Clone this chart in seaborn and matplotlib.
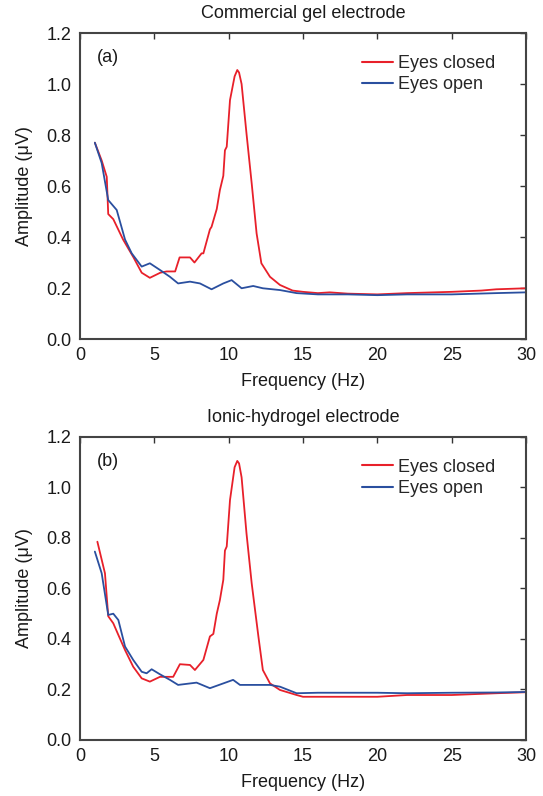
import numpy as np
import pandas as pd
import matplotlib
matplotlib.use("Agg")
import matplotlib.pyplot as plt
import seaborn as sns

# Panel (a): Commercial gel electrode
a_closed_f = [1.0, 1.46, 1.8, 1.9, 2.24, 2.9, 3.6, 4.15, 4.7, 5.4, 5.83, 6.4, 6.7, 7.4, 7.7,
              8.18, 8.3, 8.74, 8.85, 9.2, 9.41, 9.64, 9.75, 9.87, 10.09, 10.4, 10.58, 10.7, 10.87,
              11.2, 11.55, 11.88, 12.2, 12.78, 13.45, 14.3, 15.0, 16.0, 16.8, 18.0, 20.0, 22.0,
              25.0, 27.0, 28.0, 30.0]
a_closed_v = [0.77, 0.70, 0.636, 0.49, 0.47, 0.39, 0.32, 0.26, 0.24, 0.26, 0.265, 0.265, 0.32,
              0.32, 0.30, 0.336, 0.336, 0.43, 0.44, 0.51, 0.584, 0.64, 0.74, 0.754, 0.937, 1.03,
              1.055, 1.045, 1.0, 0.806, 0.61, 0.414, 0.297, 0.244, 0.212, 0.19, 0.185, 0.18,
              0.183, 0.178, 0.175, 0.18, 0.185, 0.19, 0.195, 0.199]
a_open_f = [1.0, 1.46, 1.9, 2.47, 3.03, 3.48, 4.15, 4.7, 5.4, 6.05, 6.6, 7.4, 8.07, 8.85, 9.64,
            10.2, 10.87, 11.65, 12.3, 13.45, 14.57, 16.0, 18.0, 20.0, 22.0, 25.0, 28.0, 30.0]
a_open_v = [0.77, 0.69, 0.545, 0.506, 0.39, 0.336, 0.284, 0.297, 0.27, 0.244, 0.218, 0.225,
            0.218, 0.195, 0.218, 0.231, 0.199, 0.208, 0.199, 0.192, 0.18, 0.175, 0.175, 0.172,
            0.175, 0.175, 0.18, 0.183]

# Panel (b): Ionic-hydrogel electrode
b_closed_f = [1.17, 1.68, 1.9, 2.24, 2.58, 3.03, 3.58, 4.15, 4.7, 5.38, 6.27, 6.72, 7.4, 7.73,
              8.3, 8.74, 8.97, 9.2, 9.41, 9.64, 9.75, 9.87, 10.09, 10.4, 10.58, 10.7, 10.87, 11.2,
              11.55, 12.0, 12.3, 12.78, 13.45, 14.57, 15.0, 17.0, 20.0, 22.0, 25.0, 28.0, 30.0]
b_closed_v = [0.785, 0.66, 0.49, 0.462, 0.416, 0.356, 0.29, 0.244, 0.231, 0.25, 0.25, 0.30,
              0.297, 0.277, 0.317, 0.41, 0.42, 0.50, 0.554, 0.634, 0.75, 0.766, 0.95, 1.08, 1.105,
              1.095, 1.04, 0.818, 0.62, 0.41, 0.277, 0.224, 0.198, 0.178, 0.171, 0.171, 0.171,
              0.178, 0.178, 0.185, 0.189]
b_open_f = [1.0, 1.46, 1.9, 2.24, 2.58, 3.03, 3.58, 4.15, 4.48, 4.82, 5.38, 6.05, 6.6, 7.84,
            8.74, 9.64, 10.3, 10.76, 11.65, 12.78, 13.45, 14.57, 16.0, 18.0, 20.0, 22.0, 25.0,
            28.0, 30.0]
b_open_v = [0.746, 0.66, 0.495, 0.50, 0.475, 0.37, 0.317, 0.27, 0.264, 0.28, 0.26, 0.238, 0.218,
            0.227, 0.205, 0.224, 0.238, 0.218, 0.218, 0.218, 0.211, 0.185, 0.187, 0.187, 0.187,
            0.185, 0.187, 0.188, 0.19]

titles = ["Commercial gel electrode", "Ionic-hydrogel electrode"]
panel_labels = ["(a)", "(b)"]
series_names = ["Eyes closed", "Eyes open"]
colors = {"Eyes closed": "#e8202a", "Eyes open": "#2a4f9f"}
x_ticks = [0, 5, 10, 15, 20, 25, 30]
y_ticks = [0.0, 0.2, 0.4, 0.6, 0.8, 1.0, 1.2]

sns.set_theme(style="white")
plt.rcParams["font.family"] = ["Liberation Sans", "DejaVu Sans"]

FS = 13
fig = plt.figure(figsize=(5.43, 7.96), dpi=100)
positions = [[0.1473, 0.5741, 0.8214, 0.3844], [0.1473, 0.0704, 0.8214, 0.3807]]

panels = [
    (a_closed_f, a_closed_v, a_open_f, a_open_v),
    (b_closed_f, b_closed_v, b_open_f, b_open_v),
]

for i, (cf, cv, of, ov) in enumerate(panels):
    ax = fig.add_axes(positions[i])
    df = pd.concat([
        pd.DataFrame({"f": cf, "v": cv, "s": series_names[0]}),
        pd.DataFrame({"f": of, "v": ov, "s": series_names[1]}),
    ])
    sns.lineplot(data=df, x="f", y="v", hue="s", palette=colors, ax=ax,
                 linewidth=1.3, sort=False, estimator=None)
    ax.set_xlim(0, 30)
    ax.set_ylim(0, 1.2)
    ax.set_xticks(x_ticks)
    ax.set_yticks(y_ticks)
    ax.set_xticklabels([str(t) for t in x_ticks])
    ax.set_yticklabels([f"{t:.1f}" for t in y_ticks])
    ax.tick_params(direction="in", top=True, right=True, length=4, width=1.0,
                   labelsize=FS, colors="#333333", pad=6)
    ax.tick_params(axis="both", labelcolor="#1a1a1a")
    for sp in ax.spines.values():
        sp.set_color("#444444")
        sp.set_linewidth(1.5)
    ax.set_xlabel("Frequency (Hz)", fontsize=FS, color="#1a1a1a", labelpad=6)
    ax.set_ylabel("Amplitude (\u03bcV)", fontsize=FS, color="#1a1a1a", labelpad=10)
    ax.set_title(titles[i], fontsize=FS, color="#1a1a1a", pad=11)
    ax.text(0.038, 0.92, panel_labels[i], transform=ax.transAxes, fontsize=FS,
            ha="left", va="center", color="#1a1a1a")
    leg = ax.legend(loc="upper left", frameon=False, fontsize=FS, handlelength=1.72,
                    handletextpad=0.3, labelspacing=0.25, borderaxespad=0.0,
                    bbox_to_anchor=(0.615, 0.952))
    for line in leg.get_lines():
        line.set_linewidth(1.5)
    ax.grid(False)

fig.savefig("out.png", dpi=100)
